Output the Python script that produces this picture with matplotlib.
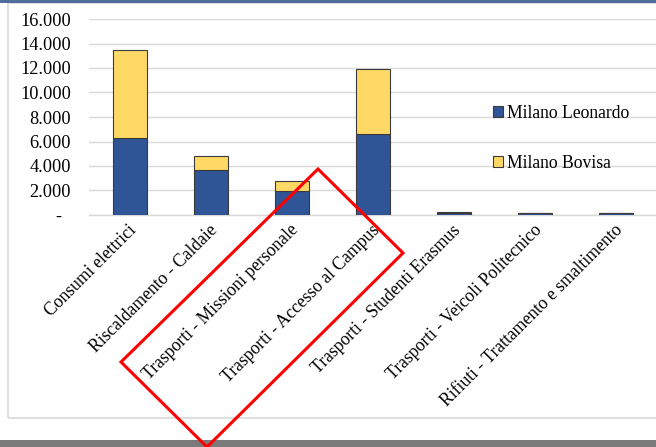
import matplotlib
matplotlib.use("Agg")
import matplotlib.pyplot as plt
import matplotlib.transforms as mtransforms
from matplotlib.patches import Rectangle, Polygon
from matplotlib.ticker import FuncFormatter, MultipleLocator

categories = [
    "Consumi elettrici",
    "Riscaldamento - Caldaie",
    "Trasporti - Missioni personale",
    "Trasporti - Accesso al Campus",
    "Trasporti - Studenti Erasmus",
    "Trasporti - Veicoli Politecnico",
    "Rifiuti - Trattamento e smaltimento",
]
leonardo = [6300, 3700, 1950, 6650, 150, 130, 130]
bovisa = [7200, 1150, 850, 5300, 100, 20, 20]
series_names = ["Milano Leonardo", "Milano Bovisa"]

W, H = 656, 447
fig = plt.figure(figsize=(W / 100, H / 100), dpi=100)
plt.rcParams['font.family'] = ['Liberation Serif', 'DejaVu Serif']

def fx(px):
    return px / W

def fy(py):
    return 1 - py / H

# outer frame
fig.patches.append(Rectangle((fx(8), fy(418)), 1.2, fy(3) - fy(418), transform=fig.transFigure,
                             fill=False, edgecolor="#D9D9D9", linewidth=1.2, zorder=0))
# top blue band
fig.patches.append(Rectangle((0, fy(3)), 1, fy(0) - fy(3), transform=fig.transFigure,
                             facecolor="#4E6E9E", edgecolor="none", zorder=5))
# bottom gray band
fig.patches.append(Rectangle((0, 0), 1, fy(440), transform=fig.transFigure,
                             facecolor="#7A7A7A", edgecolor="none", zorder=5))

ax = fig.add_axes([fx(89), fy(215), fx(656.5) - fx(89), fy(19) - fy(215)])
x = list(range(len(categories)))
c_blue = "#2F5597"
c_yellow = "#FFD966"
ax.bar(x, leonardo, width=0.42, color=c_blue, edgecolor="#3A3A3A", linewidth=0.8, zorder=3,
       label=series_names[0])
ax.bar(x, bovisa, width=0.42, bottom=leonardo, color=c_yellow, edgecolor="#3A3A3A", linewidth=0.8,
       zorder=3, label=series_names[1])

ax.set_xlim(-0.5, len(categories) - 0.5)
ax.set_ylim(0, 16000)
ax.yaxis.set_major_locator(MultipleLocator(2000))
ax.yaxis.set_major_formatter(FuncFormatter(
    lambda v, p: "-  " if v == 0 else f"{int(v):,}".replace(",", ".")))
ax.grid(axis="y", color="#D9D9D9", linewidth=1.0, zorder=0)
for s in ["top", "right", "left"]:
    ax.spines[s].set_visible(False)
ax.spines["bottom"].set_color("#D9D9D9")
ax.spines["bottom"].set_linewidth(1.0)
ax.tick_params(axis="both", length=0, colors="#000000")
ax.tick_params(axis="y", pad=13, labelsize=13.2)
ax.tick_params(axis="x", pad=9, labelsize=12.7)
ax.set_xticks(x)
ax.set_xticklabels(categories, rotation=45, ha="right", va="center", rotation_mode="anchor")
offset = mtransforms.ScaledTranslation(4 / 100, 0, fig.dpi_scale_trans)
for lab in ax.get_xticklabels():
    lab.set_transform(lab.get_transform() + offset)

handles = [Rectangle((0, 0), 1, 1, facecolor=c_blue, edgecolor="#3A3A3A", linewidth=0.8),
           Rectangle((0, 0), 1, 1, facecolor=c_yellow, edgecolor="#3A3A3A", linewidth=0.8)]
leg = fig.legend(handles, series_names, loc="upper left", bbox_to_anchor=(fx(493), fy(105)),
                 frameon=False, fontsize=12.7, labelspacing=1.85, handlelength=0.55,
                 handleheight=0.55, handletextpad=0.25, borderaxespad=0, borderpad=0)

# red annotation rectangle
poly = Polygon([(fx(318), fy(169)), (fx(403), fy(253)), (fx(207), fy(447)), (fx(121), fy(362))],
               closed=True, transform=fig.transFigure, fill=False, edgecolor="#FF0000",
               linewidth=2.2, zorder=10)
fig.patches.append(poly)

fig.savefig("out.png", dpi=100)
